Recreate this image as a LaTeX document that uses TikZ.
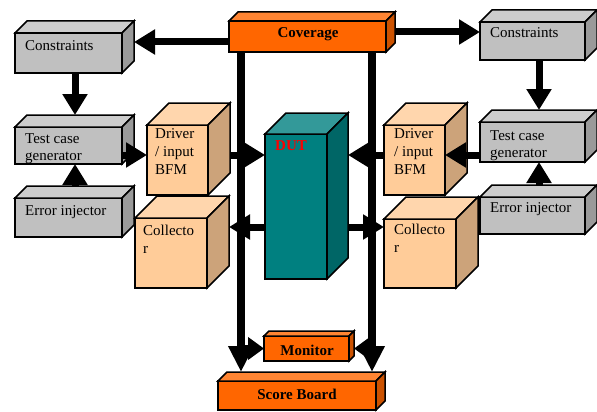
\documentclass[tikz,border=0pt]{standalone}
\usepackage{fontspec}
\setmainfont{Liberation Serif}
\usetikzlibrary{arrows.meta}

\definecolor{greybox}{HTML}{C0C0C0}
\definecolor{peach}{HTML}{FFCC99}
\definecolor{orng}{HTML}{FF6600}
\definecolor{dutteal}{HTML}{008080}

\tikzset{
  face/.style={draw, line width=1.5pt, outer sep=0pt, inner sep=0pt},
  lbl/.style={inner sep=0pt, anchor=base west, align=left, font=\fontsize{15}{18}\selectfont},
  title/.style={inner sep=0pt, anchor=base, font=\fontsize{15}{18}\selectfont\bfseries},
  link/.style={line width=7pt, -{Triangle[length=21pt,width=24pt]}},
  tap/.style={line width=7pt, -{Triangle[length=16pt,width=22pt]}},
  bus/.style={line width=8.5pt, -{Triangle[length=26pt,width=24pt]}},
}

% name, x, y, width, height, depth, colour
\newcommand{\cubebox}[7]{%
  \node[face, fill=#7, minimum width=#4pt, minimum height=#5pt, anchor=north west] (#1) at (#2,#3) {};
  \draw[face, fill=#7!80!white] (#1.north west) -- ++(#6,-#6) -- ++(#4,0) -- (#1.north east) -- cycle;
  \draw[face, fill=#7!80!black] (#1.north east) -- ++(#6,-#6) -- ++(0,#5) -- (#1.south east) -- cycle;
  \coordinate (#1-top) at ([xshift=#6pt,yshift=#6pt]#1.north);
  \coordinate (#1-side) at ([xshift=#6pt]#1.east);
}

\begin{document}
\begin{tikzpicture}[x=1pt,y=-1pt]
\useasboundingbox (0,0) rectangle (597,412);

% boxes
\cubebox{cov}{229}{21}{157}{31}{9}{orng}
\cubebox{conL}{15}{33}{107}{40}{12}{greybox}
\cubebox{tcL}{15}{127}{107}{37}{12}{greybox}
\cubebox{eiL}{15}{198}{107}{39}{12}{greybox}
\cubebox{drvL}{147}{125}{61}{70}{22}{peach}
\cubebox{colL}{135}{218}{72}{70}{22}{peach}
\cubebox{conR}{480}{22}{105}{38}{12}{greybox}
\cubebox{tcR}{480}{122}{105}{40}{12}{greybox}
\cubebox{eiR}{480}{197}{105}{37}{12}{greybox}
\cubebox{drvR}{384}{125}{61}{70}{22}{peach}
\cubebox{colR}{384}{219}{72}{69}{22}{peach}
\cubebox{dut}{265}{134}{62}{145}{21}{dutteal}
\cubebox{mon}{264}{336}{85}{25}{5}{orng}
\cubebox{sb}{218}{381}{158}{29}{9}{orng}

% texts (several lines: base is the last line)
\node[title] (cov-t) at (308,38) {Coverage};
\node[lbl] (conL-t) at (25,51) {Constraints};
\node[lbl] (conR-t) at (490,38) {Constraints};
\node[lbl, font=\fontsize{15}{16.5}\selectfont] (tcL-t) at (25,160) {Test case\\generator};
\node[lbl, font=\fontsize{15}{16.5}\selectfont] (tcR-t) at (490,157) {Test case\\generator};
\node[lbl] (eiL-t) at (25,215) {Error injector};
\node[lbl] (eiR-t) at (490,212) {Error injector};
\node[lbl] (drvL-t) at (155,174) {Driver\\/ input\\BFM};
\node[lbl] (drvR-t) at (394,174) {Driver\\/ input\\BFM};
\node[lbl] (colL-t) at (143,253) {Collecto\\r};
\node[lbl] (colR-t) at (394,252) {Collecto\\r};
\node[title, anchor=base west, text=red] (dut-t) at (275,150) {DUT};
\node[title] (mon-t) at (307,355) {Monitor};
\node[title] (sb-t) at (297,399) {Score Board};

% rows and columns of the connectors
\coordinate (rowA) at (0,155);
\coordinate (rowB) at (0,227);
\coordinate (covL) at (0,42);
\coordinate (covR) at (0,32);
\coordinate (colA) at (75,0);
\coordinate (colB) at (539,0);
\coordinate (lbar) at (241,0);
\coordinate (rbar) at (372,0);

% left side
\draw[link] (cov.west |- covL) -- (conL-side |- covL);
\draw[link] (conL.south -| colA) -- (colA |- tcL-top);
\draw[link] (eiL-top -| colA) -- (tcL.south -| colA);
\draw[link] (tcL.east |- rowA) -- (drvL.west |- rowA);
\draw[link] (drvL-side |- rowA) -- (dut.west |- rowA);
\draw[link] (dut.west |- rowB) -- (colL-side |- rowB);

% right side
\draw[link] (cov-side |- covR) -- (conR.west |- covR);
\draw[link] (conR.south -| colB) -- (colB |- tcR-top);
\draw[link] (eiR-top -| colB) -- (tcR.south -| colB);
\draw[link] (tcR.west |- rowA) -- (drvR.east |- rowA);
\draw[link] (drvR.west |- rowA) -- (dut-side |- rowA);
\draw[link] (dut-side |- rowB) -- (colR.west |- rowB);

% bus to the score board
\draw[bus] (cov.south -| lbar) -- (lbar |- sb-top);
\draw[bus] (cov.south -| rbar) -- (rbar |- sb-top);
\draw[tap] (lbar |- mon.west) -- (mon.west);
\draw[tap] (rbar |- mon.east) -- (mon-side |- mon.east);
\end{tikzpicture}
\end{document}
